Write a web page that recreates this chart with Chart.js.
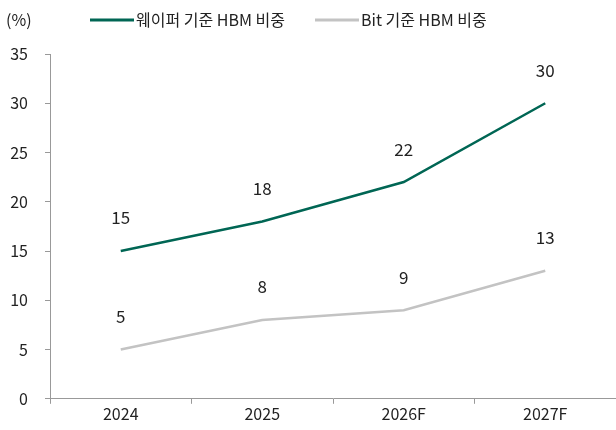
<!DOCTYPE html>
<html>
<head>
<meta charset="utf-8">
<script src="https://cdn.jsdelivr.net/npm/chart.js@4"></script>
<style>
  html, body { margin: 0; padding: 0; background: #fff; }
  #wrap { width: 616px; height: 430px; }
</style>
</head>
<body>
<div id="wrap"><canvas id="hbmShare"></canvas></div>
<script>
const years = ['2024', '2025', '2026F', '2027F'];
const waferShare = [15, 18, 22, 30];
const bitShare = [5, 8, 9, 13];
const seriesNames = ['웨이퍼 기준 HBM 비중', 'Bit 기준 HBM 비중'];
const yTicks = [0, 5, 10, 15, 20, 25, 30, 35];

const FONT = "'Noto Sans CJK KR', 'Noto Sans', sans-serif";

// value labels above each point + the custom legend and unit label
const labelPlugin = {
  id: 'labels',
  afterDatasetsDraw(chart) {
    const ctx = chart.ctx;
    ctx.save();
    ctx.fillStyle = '#222';
    ctx.font = '17px ' + FONT;
    ctx.textAlign = 'center';
    ctx.textBaseline = 'middle';
    chart.data.datasets.forEach((ds, i) => {
      chart.getDatasetMeta(i).data.forEach((pt, j) => {
        ctx.fillText(ds.data[j], pt.x, pt.y - 33);
      });
    });

    ctx.font = '16px ' + FONT;
    ctx.textAlign = 'left';
    ctx.fillStyle = '#222';
    ctx.fillText('(%)', 6, 20);

    const items = [{ x: 90, ds: chart.data.datasets[0] }, { x: 315, ds: chart.data.datasets[1] }];
    items.forEach(it => {
      ctx.strokeStyle = it.ds.borderColor;
      ctx.lineWidth = 3;
      ctx.beginPath();
      ctx.moveTo(it.x, 20);
      ctx.lineTo(it.x + 44, 20);
      ctx.stroke();
      ctx.fillText(it.ds.label, it.x + 46, 20);
    });
    ctx.restore();
  }
};

new Chart(document.getElementById('hbmShare').getContext('2d'), {
  type: 'line',
  data: {
    labels: years,
    datasets: [{
      label: seriesNames[0],
      data: waferShare,
      borderColor: '#006654',
      borderWidth: 2.5,
      pointRadius: 0,
      tension: 0
    }, {
      label: seriesNames[1],
      data: bitShare,
      borderColor: '#c3c3c3',
      borderWidth: 2.5,
      pointRadius: 0,
      tension: 0
    }]
  },
  options: {
    responsive: true,
    maintainAspectRatio: false,
    animation: false,
    layout: { padding: { top: 54, left: 8, right: 0, bottom: 5 } },
    plugins: { legend: { display: false }, tooltip: { enabled: false } },
    scales: {
      x: {
        offset: true,
        border: { color: '#999', width: 1 },
        grid: { drawOnChartArea: false, drawTicks: true, tickLength: 5, color: '#999', offset: true },
        ticks: { color: '#222', font: { family: FONT, size: 16 }, padding: 1 }
      },
      y: {
        min: 0,
        max: 35,
        afterBuildTicks(axis) { axis.ticks = yTicks.map(v => ({ value: v })); },
        afterFit(axis) { axis.width = 42; },
        border: { color: '#999', width: 1 },
        grid: { drawOnChartArea: false, drawTicks: true, tickLength: 5, color: '#999' },
        ticks: { color: '#222', font: { family: FONT, size: 16 }, padding: 17 }
      }
    }
  },
  plugins: [labelPlugin]
});
</script>
</body>
</html>
